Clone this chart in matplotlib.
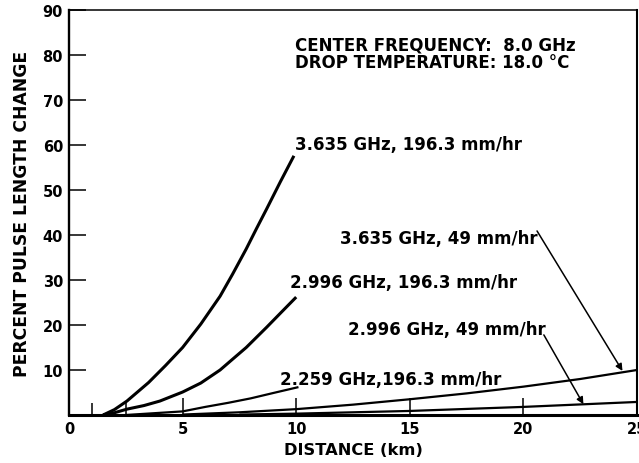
import matplotlib
matplotlib.use("Agg")
import matplotlib.pyplot as plt

plt.rcParams['font.family'] = ['DejaVu Sans']

# Series (distance km, percent change)
c1_x = [1.5, 2.0, 2.55, 3.5, 4.25, 5.0, 5.8, 6.65, 7.2, 7.8, 8.25, 8.7, 9.3, 9.9]
c1_y = [0.0, 1.2, 3.1, 7.2, 11.0, 15.0, 20.2, 26.4, 31.3, 36.9, 41.4, 45.8, 51.8, 57.6]

c2_x = [1.5, 2.0, 2.55, 3.3, 4.0, 5.0, 5.8, 6.65, 7.2, 7.8, 8.7, 9.3, 10.0]
c2_y = [0.0, 0.5, 1.3, 2.1, 3.1, 5.1, 7.1, 10.0, 12.4, 15.0, 19.5, 22.6, 26.2]

c3_x = [2.5, 5.0, 6.0, 7.0, 8.0, 9.0, 10.1]
c3_y = [0.0, 0.8, 1.8, 2.7, 3.7, 4.9, 6.2]

c4_x = [5.0, 7.5, 10.0, 12.5, 15.0, 17.5, 20.0, 22.5, 25.0]
c4_y = [0.1, 0.6, 1.3, 2.3, 3.5, 4.8, 6.3, 8.0, 10.0]

c5_x = [7.5, 10.0, 15.0, 20.0, 25.0]
c5_y = [0.1, 0.3, 0.9, 1.8, 2.9]

x_ticks = [0, 5, 10, 15, 20, 25]
y_ticks = [10, 20, 30, 40, 50, 60, 70, 80, 90]
x_minor = [1, 2.5]

labels = ["3.635 GHz, 196.3 mm/hr", "2.996 GHz, 196.3 mm/hr",
          "2.259 GHz,196.3 mm/hr", "3.635 GHz, 49 mm/hr", "2.996 GHz, 49 mm/hr"]
info_lines = ["CENTER FREQUENCY:  8.0 GHz", "DROP TEMPERATURE: 18.0 \u00b0C"]

fig = plt.figure(figsize=(6.39, 4.64), dpi=100)
ax = fig.add_axes([69/639, 48/464, (637-69)/639, (416-11)/464])

ax.plot(c1_x, c1_y, color='k', lw=2.2, solid_capstyle='butt')
ax.plot(c2_x, c2_y, color='k', lw=2.2, solid_capstyle='butt')
ax.plot(c3_x, c3_y, color='k', lw=1.6, solid_capstyle='butt')
ax.plot(c4_x, c4_y, color='k', lw=1.6, solid_capstyle='butt')
ax.plot(c5_x, c5_y, color='k', lw=1.6, solid_capstyle='butt')

ax.set_xlim(0, 25)
ax.set_ylim(0, 90)
ax.set_xticks(x_ticks)
ax.set_xticklabels([str(v) for v in x_ticks], fontweight='bold')
ax.set_xticks(x_minor, minor=True)
ax.set_yticks(y_ticks)
ax.set_yticklabels([str(v) for v in y_ticks], fontweight='bold')

ax.tick_params(axis='both', which='major', direction='in', length=12, width=1.1,
               labelsize=10.5, colors='k')
ax.tick_params(axis='x', which='major', pad=4)
ax.tick_params(axis='y', which='major', pad=4.3)
ax.tick_params(axis='x', which='minor', direction='in', length=9, width=1.1)

ax.spines['left'].set_linewidth(1.7)
ax.spines['bottom'].set_linewidth(2.2)
ax.spines['top'].set_linewidth(1.1)
ax.spines['right'].set_linewidth(1.5)

ax.set_xlabel("DISTANCE (km)", fontsize=11.7, fontweight='bold', labelpad=5)
ax.set_ylabel("PERCENT PULSE LENGTH CHANGE", fontsize=12.3, fontweight='bold',
              labelpad=8)

fs = 12
fw = 'bold'
ax.text(9.96, 82.4, info_lines[0], fontsize=fs, fontweight=fw, va='center', ha='left')
ax.text(9.96, 78.4, info_lines[1], fontsize=fs, fontweight=fw, va='center', ha='left')

ax.text(9.96, 60.2, labels[0], fontsize=fs, fontweight=fw, va='center', ha='left')
ax.text(9.74, 29.5, labels[1], fontsize=fs, fontweight=fw, va='center', ha='left')
ax.text(9.3, 8.0, labels[2], fontsize=fs, fontweight=fw, va='center', ha='left')
ax.text(11.94, 39.3, labels[3], fontsize=fs, fontweight=fw, va='center', ha='left')
ax.text(12.3, 19.2, labels[4], fontsize=fs, fontweight=fw, va='center', ha='left')

arrow = dict(arrowstyle='-|>', lw=1.1, color='k', mutation_scale=10,
             shrinkA=0, shrinkB=0)
ax.annotate("", xy=(24.36, 9.8), xytext=(20.6, 40.9), arrowprops=arrow)
ax.annotate("", xy=(22.64, 2.4), xytext=(20.9, 17.8), arrowprops=arrow)

fig.savefig("out.png", dpi=100)
